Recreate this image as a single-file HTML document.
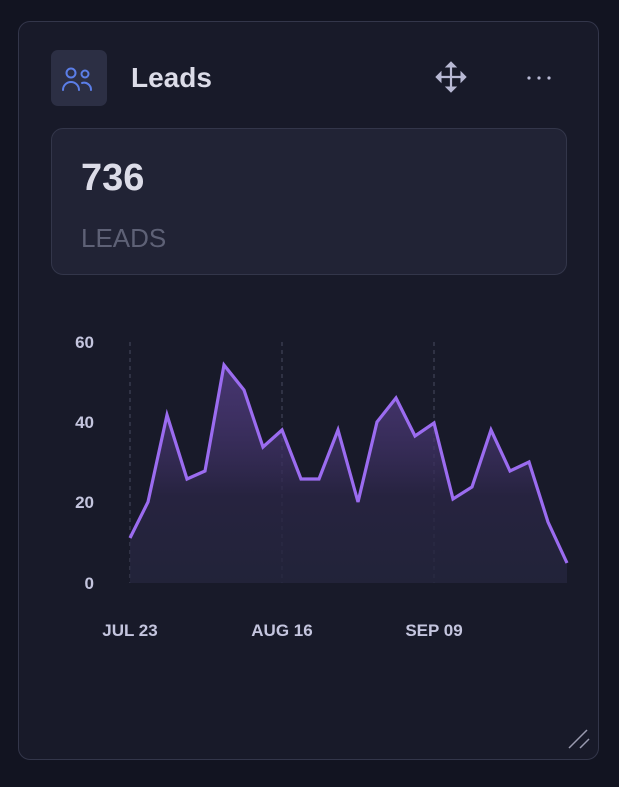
<!DOCTYPE html>
<html><head><style>
body{margin:0;width:619px;height:787px;background:#121421;font-family:"Liberation Sans",sans-serif;overflow:hidden;position:relative}
.card{position:absolute;left:18px;top:21px;width:581px;height:739px;box-sizing:border-box;border:1.5px solid #33364a;border-radius:12px;background:#181a29}
.ic{position:absolute;left:51px;top:50px;width:56px;height:56px;border-radius:7px;background:#2c2f44}
.title{position:absolute;left:131px;top:62px;font-size:28px;font-weight:bold;color:#dcdce8}
.stat{position:absolute;left:51px;top:128px;width:516px;height:147px;box-sizing:border-box;border:1.5px solid #33364a;border-radius:12px;background:#212335}
.num{position:absolute;left:81px;top:157px;font-size:38px;font-weight:bold;color:#dcdce8}
.lbl{position:absolute;left:81px;top:223px;font-size:26px;color:#5e6176}
.t{font-family:"Liberation Sans",sans-serif;font-weight:bold;fill:#c4c5de;font-size:17px}
</style></head><body>
<div class="card"></div>
<div class="ic"></div>
<svg style="position:absolute;left:0;top:0" width="619" height="787">
<g fill="none" stroke="#5b7ee8" stroke-width="2" stroke-linecap="round">
<circle cx="71" cy="73" r="4.5"/><circle cx="85" cy="74" r="3.5"/>
<path d="M63 90 a8 8 0 0 1 16 0"/><path d="M82 83 a7 7 0 0 1 9 7"/>
</g>
<g fill="#b8b9d4" stroke="#b8b9d4" stroke-width="2.2" stroke-linecap="round">
<line x1="451" y1="64" x2="451" y2="90"/><line x1="438" y1="77" x2="464" y2="77"/>
<path d="M446 67 L451 62 L456 67Z M446 87 L451 92 L456 87Z M441 72 L436 77 L441 82Z M461 72 L466 77 L461 82Z" stroke-width="1"/>
<circle cx="529" cy="78" r="1.6" stroke="none"/><circle cx="539" cy="78" r="1.6" stroke="none"/><circle cx="549" cy="78" r="1.6" stroke="none"/>
</g>
<defs><linearGradient id="g" x1="0" y1="0" x2="0" y2="1"><stop offset="0" stop-color="#6b4ba8" stop-opacity="0.55"/><stop offset="0.6" stop-color="#2a2545" stop-opacity="0.8"/><stop offset="1" stop-color="#24253d" stop-opacity="0.8"/></linearGradient></defs>
<g stroke="#3f4257" stroke-dasharray="4 4" stroke-width="1.2">
<line x1="130" y1="342" x2="130" y2="583"/><line x1="282" y1="342" x2="282" y2="583"/><line x1="434" y1="342" x2="434" y2="583"/>
</g>
<path fill="url(#g)" d="M130 538 L148 502 L167 415 L187 479 L205 471 L224 365 L244 390 L263 447 L282 430 L301 479 L319 479 L338 430 L358 502 L377 422 L396 398 L415 436 L434 423 L453 499 L472 487 L491 430 L510 471 L529 462 L548 522 L567 563 L567 583 L130 583Z"/>
<polyline fill="none" stroke="#9b6cf0" stroke-width="3.2" stroke-linejoin="miter" points="130,538 148,502 167,415 187,479 205,471 224,365 244,390 263,447 282,430 301,479 319,479 338,430 358,502 377,422 396,398 415,436 434,423 453,499 472,487 491,430 510,471 529,462 548,522 567,563"/>
<g class="t" text-anchor="end">
<text x="94" y="348">60</text><text x="94" y="428">40</text><text x="94" y="508">20</text><text x="94" y="589">0</text>
</g>
<g class="t" text-anchor="middle">
<text x="130" y="636">JUL 23</text><text x="282" y="636">AUG 16</text><text x="434" y="636">SEP 09</text>
</g>
<g stroke="#9a9bb0" stroke-width="1.5"><line x1="569" y1="748" x2="587" y2="730"/><line x1="580" y1="748" x2="589" y2="739"/></g>
</svg>
<div class="title">Leads</div>
<div class="stat"></div>
<div class="num">736</div>
<div class="lbl">LEADS</div>
</body></html>
